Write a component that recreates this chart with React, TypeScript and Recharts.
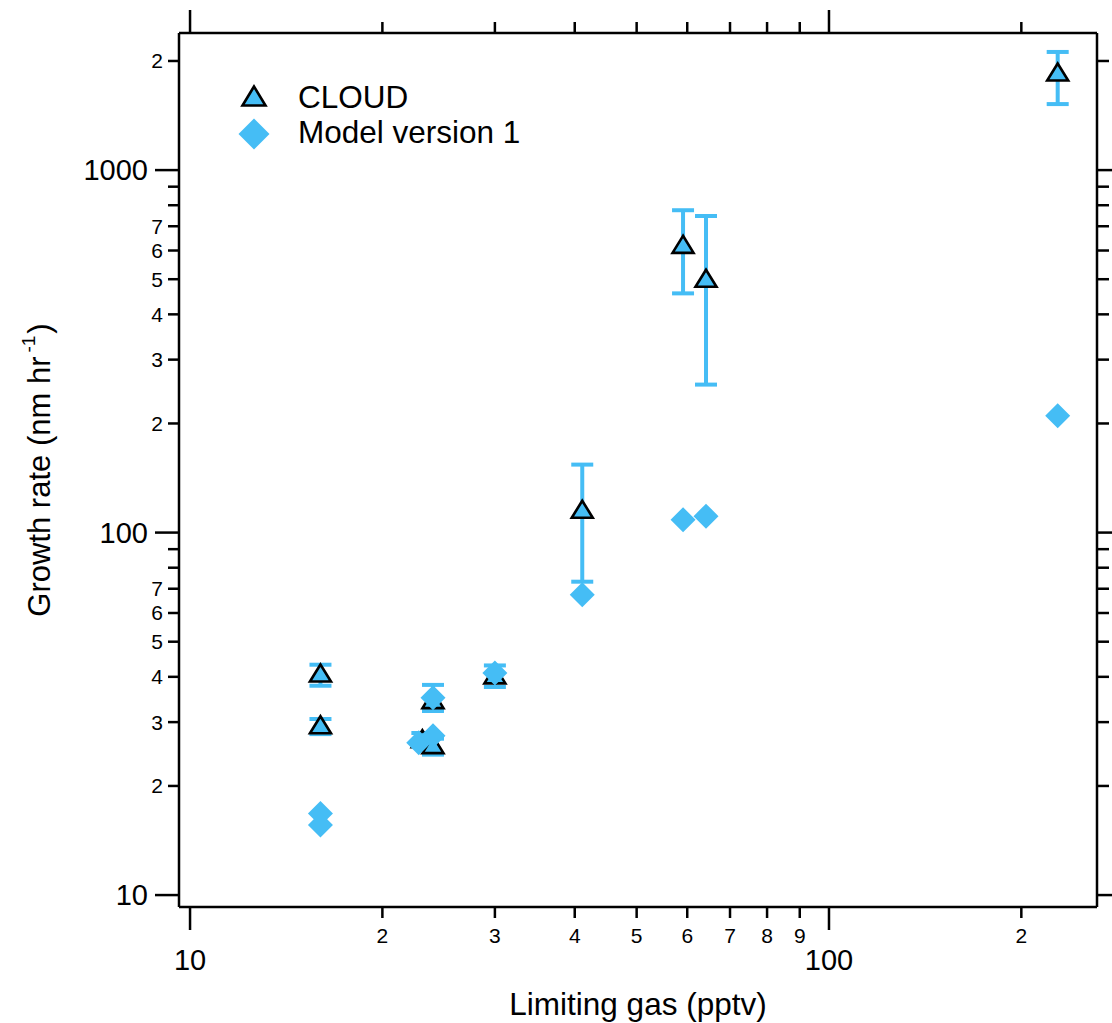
import React from 'react';
import { ScatterChart, Scatter, XAxis, YAxis, ErrorBar, Legend } from 'recharts';

const BLUE = '#45BDF5';
const FONT = '"Liberation Sans", Arial, Helvetica, sans-serif';

// CLOUD measurements (limiting gas pptv, growth rate nm/hr, error bounds)
const cloudX = [16.0, 16.0, 23.1, 24.0, 24.0, 30.0, 41.1, 59.1, 64.2, 228];
const cloudY = [41, 29.5, 27.0, 26.0, 34.6, 40.5, 116, 624, 503, 1865];
const cloudLo = [37.8, 27.8, 26.0, 24.4, 32.2, 37.5, 73.2, 457, 256, 1521];
const cloudHi = [43.2, 30.6, 28.0, 27.0, 38.0, 43.0, 154, 775, 747, 2118];

// Model version 1
const modelX = [16.0, 16.0, 22.8, 24.0, 24.0, 30.0, 41.1, 59.1, 64.2, 228];
const modelY = [16.8, 15.6, 26.3, 27.5, 35.0, 41.0, 67.4, 108.5, 111, 210];

const seriesNames = ['CLOUD', 'Model version 1'];

const xTicks = [10, 20, 30, 40, 50, 60, 70, 80, 90, 100, 200];
const xTickLabels = ['10', '2', '3', '4', '5', '6', '7', '8', '9', '100', '2'];
const yTicks = [10, 20, 30, 40, 50, 60, 70, 80, 90, 100, 200, 300, 400, 500, 600, 700, 800, 900, 1000, 2000];
const yTickLabels = ['10', '2', '3', '4', '5', '6', '7', '', '', '100', '2', '3', '4', '5', '6', '7', '', '', '1000', '2'];

const X_DOMAIN = [9.61, 262.7];
const Y_DOMAIN = [9.27, 2389];

const xTitle = 'Limiting gas (pptv)';
const yTitleMain = 'Growth rate (nm hr';
const yTitleSup = '-1';
const yTitleEnd = ')';

const cloudData = cloudX.map((x, i) => ({
  x,
  y: cloudY[i],
  err: [cloudY[i] - cloudLo[i], cloudHi[i] - cloudY[i]],
}));
const modelData = modelX.map((x, i) => ({ x, y: modelY[i] }));

const isMajor = (v: number) => Math.abs(Math.log10(v) - Math.round(Math.log10(v))) < 1e-9;

const BottomTick = (p: any) => {
  const { x, y, payload } = p;
  const v = payload.value;
  const label = xTickLabels[xTicks.indexOf(v)] ?? '';
  const major = isMajor(v);
  return (
    <g>
      <line x1={x} x2={x} y1={y} y2={y + (major ? 23 : 11)} stroke="#000" strokeWidth={2.5} />
      {label && (
        <text x={x} y={y + (major ? 53 : 28)} textAnchor="middle" dominantBaseline="central"
          fontSize={major ? 29 : 21} fontFamily={FONT} fill="#000">{label}</text>
      )}
    </g>
  );
};

const TopTick = (p: any) => {
  const { x, y, payload } = p;
  const major = isMajor(payload.value);
  return <line x1={x} x2={x} y1={y} y2={y - (major ? 23 : 11)} stroke="#000" strokeWidth={2.5} />;
};

const LeftTick = (p: any) => {
  const { x, y, payload } = p;
  const v = payload.value;
  const label = yTickLabels[yTicks.indexOf(v)] ?? '';
  const major = isMajor(v);
  return (
    <g>
      <line x1={x - (major ? 24 : 11)} x2={x} y1={y} y2={y} stroke="#000" strokeWidth={2.5} />
      {label && (
        <text x={x - (major ? 31 : 16)} y={y} textAnchor="end" dominantBaseline="central"
          fontSize={major ? 29 : 21} fontFamily={FONT} fill="#000">{label}</text>
      )}
    </g>
  );
};

const RightTick = (p: any) => {
  const { x, y, payload } = p;
  const major = isMajor(payload.value);
  return <line x1={x} x2={x + (major ? 23 : 12)} y1={y} y2={y} stroke="#000" strokeWidth={2.5} />;
};

const XTitle = (p: any) => {
  const vb = p.viewBox || { x: 179, y: 907, width: 918, height: 116 };
  return (
    <text x={vb.x + vb.width / 2} y={vb.y + vb.height - 8} textAnchor="middle" fontSize={31.5}
      fontFamily={FONT} fill="#000">{xTitle}</text>
  );
};

const YTitle = (p: any) => {
  const vb = p.viewBox || { x: 0, y: 33, width: 179, height: 874 };
  const cx = 50;
  const cy = vb.y + vb.height / 2;
  return (
    <text x={cx} y={cy} transform={`rotate(-90, ${cx}, ${cy})`} textAnchor="middle" fontSize={31}
      fontFamily={FONT} fill="#000">
      {yTitleMain}
      <tspan dx={4} dy={-15} fontSize={19}>{yTitleSup}</tspan>
      <tspan dx={2} dy={15}>{yTitleEnd}</tspan>
    </text>
  );
};

const trianglePoints = (cx: number, cy: number, hw: number, hh: number) =>
  `${cx},${cy - hh} ${cx - hw},${cy + hh} ${cx + hw},${cy + hh}`;
const diamondPoints = (cx: number, cy: number, r: number) =>
  `${cx},${cy - r} ${cx + r},${cy} ${cx},${cy + r} ${cx - r},${cy}`;

const Triangle = (p: any) => {
  const { cx, cy } = p;
  if (cx == null || cy == null) return null;
  return <polygon points={trianglePoints(cx, cy, 10.5, 8.5)} fill={BLUE} stroke="#000" strokeWidth={2.6} />;
};

const Diamond = (p: any) => {
  const { cx, cy } = p;
  if (cx == null || cy == null) return null;
  return <polygon points={diamondPoints(cx, cy, 12.5)} fill={BLUE} stroke="none" />;
};

const LegendContent = () => (
  <svg width={340} height={90} style={{ display: 'block' }}>
    <polygon points={trianglePoints(24, 26, 11.5, 9.5)} fill={BLUE} stroke="#000" strokeWidth={2.6} />
    <text x={68} y={38} fontSize={31.5} fontFamily={FONT} fill="#000">{seriesNames[0]}</text>
    <polygon points={diamondPoints(24, 64, 15.5)} fill={BLUE} />
    <text x={68} y={73} fontSize={31.5} fontFamily={FONT} fill="#000">{seriesNames[1]}</text>
  </svg>
);

const axisLine = { stroke: '#000', strokeWidth: 2.5 };

export default function App() {
  return (
    <div style={{ position: 'absolute', left: 0, top: 0, width: 1112, height: 1023, background: '#fff' }}>
      <ScatterChart width={1112} height={1023} margin={{ top: 0, right: 0, bottom: 0, left: 0 }}>
        <XAxis xAxisId="b" dataKey="x" type="number" scale="log" domain={X_DOMAIN} allowDataOverflow
          ticks={xTicks} interval={0} orientation="bottom" height={116} tickSize={0} tickMargin={0}
          tick={<BottomTick />} tickLine={false} axisLine={axisLine} label={<XTitle />} />
        <XAxis xAxisId="t" dataKey="x" type="number" scale="log" domain={X_DOMAIN} allowDataOverflow
          ticks={xTicks} interval={0} orientation="top" height={33} tickSize={0} tickMargin={0}
          tick={<TopTick />} tickLine={false} axisLine={axisLine} />
        <YAxis yAxisId="l" dataKey="y" type="number" scale="log" domain={Y_DOMAIN} allowDataOverflow
          ticks={yTicks} interval={0} orientation="left" width={179} tickSize={0} tickMargin={0}
          tick={<LeftTick />} tickLine={false} axisLine={axisLine} label={<YTitle />} />
        <YAxis yAxisId="r" dataKey="y" type="number" scale="log" domain={Y_DOMAIN} allowDataOverflow
          ticks={yTicks} interval={0} orientation="right" width={15} tickSize={0} tickMargin={0}
          tick={<RightTick />} tickLine={false} axisLine={axisLine} />
        <Legend layout="vertical" align="center" verticalAlign="middle" content={<LegendContent />}
          wrapperStyle={{ position: 'absolute', left: 230, top: 70, width: 340, height: 90 }} />
        <Scatter name={seriesNames[0]} data={cloudData} xAxisId="b" yAxisId="l" fill={BLUE}
          shape={Triangle} isAnimationActive={false}>
          <ErrorBar dataKey="err" direction="y" width={11} stroke={BLUE} strokeWidth={4} isAnimationActive={false} />
        </Scatter>
        <Scatter name={seriesNames[1]} data={modelData} xAxisId="b" yAxisId="l" fill={BLUE}
          shape={Diamond} isAnimationActive={false} />
      </ScatterChart>
    </div>
  );
}
